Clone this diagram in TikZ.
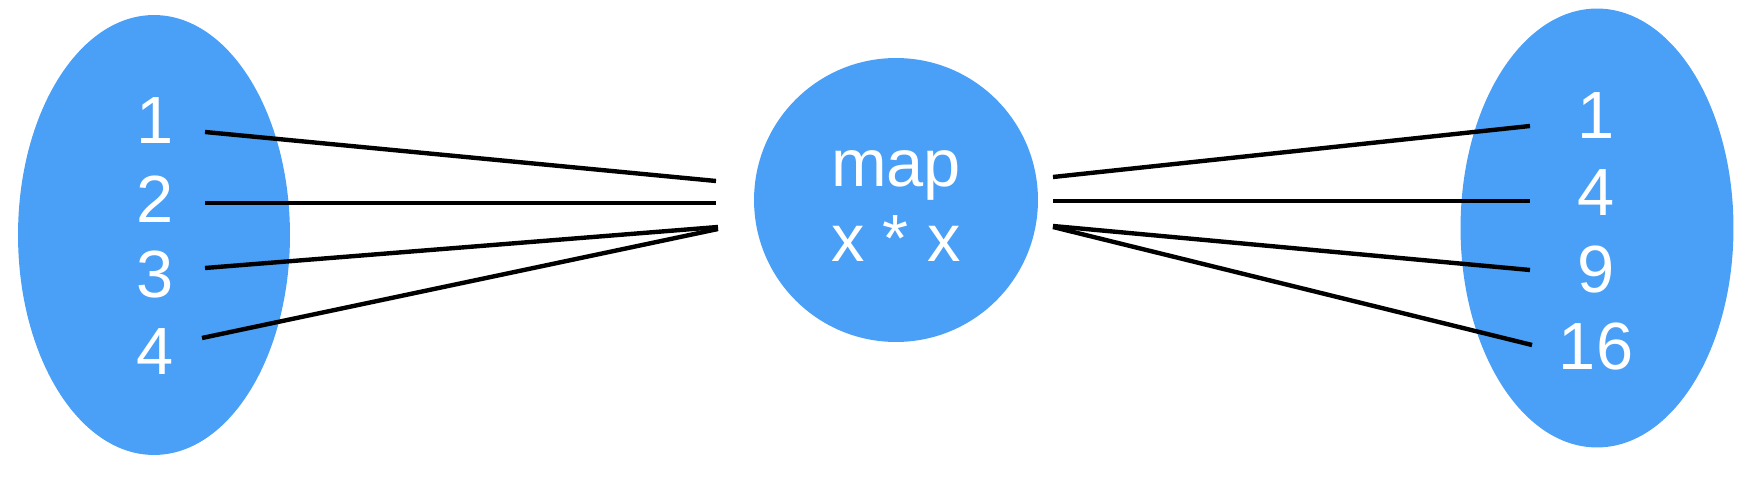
\documentclass[tikz,border=0pt]{standalone}
\usepackage{fontspec}
\setmainfont{Liberation Sans}
\usetikzlibrary{shapes.geometric}
\definecolor{blobblue}{RGB}{74,160,246}
\tikzset{
  blob/.style={fill=blobblue, draw=none},
  num/.style={text=white, font=\fontsize{38}{42}\selectfont, inner sep=0pt},
  link/.style={line width=2.5pt, black}
}
\begin{document}
\begin{tikzpicture}[x=0.02cm, y=-0.02cm]
\useasboundingbox (0,0) rectangle (1754,482);
\node[blob, ellipse, minimum width=5.44cm, minimum height=8.8cm] (dom) at (154,235) {};
\node[blob, circle, minimum size=5.68cm] (f) at (896,200) {};
\node[blob, ellipse, minimum width=5.46cm, minimum height=8.78cm] (cod) at (1597,228) {};
\node[num] (a1) at (155,121) {1};
\node[num] (a2) at (155,199) {2};
\node[num] (a3) at (155,275) {3};
\node[num] (a4) at (155,352) {4};
\node[num, anchor=base] (fm) at (896,187) {map};
\node[num, anchor=base] (fx) at (896,262) {x * x};
\node[num] (b1) at (1596,116) {1};
\node[num] (b2) at (1596,193) {4};
\node[num] (b3) at (1596,270) {9};
\node[num] (b4) at (1596,347) {16};
\coordinate (p1) at (205,132);
\coordinate (p2) at (205,203);
\coordinate (p3) at (205,268);
\coordinate (p4) at (202,338);
\coordinate (q1) at (716,181);
\coordinate (q2) at (716,203);
\coordinate (q3) at (718,227);
\coordinate (q4) at (718,229);
\coordinate (r1) at (1053,177);
\coordinate (r2) at (1053,201);
\coordinate (r3) at (1053,226);
\coordinate (r4) at (1053,227);
\coordinate (s1) at (1530,126);
\coordinate (s2) at (1530,201);
\coordinate (s3) at (1530,270);
\coordinate (s4) at (1532,345);
\draw[link] (p1) -- (q1);
\draw[link] (p2) -- (q2);
\draw[link] (p3) -- (q3);
\draw[link] (p4) -- (q4);
\draw[link] (r1) -- (s1);
\draw[link] (r2) -- (s2);
\draw[link] (r3) -- (s3);
\draw[link] (r4) -- (s4);
\end{tikzpicture}
\end{document}
